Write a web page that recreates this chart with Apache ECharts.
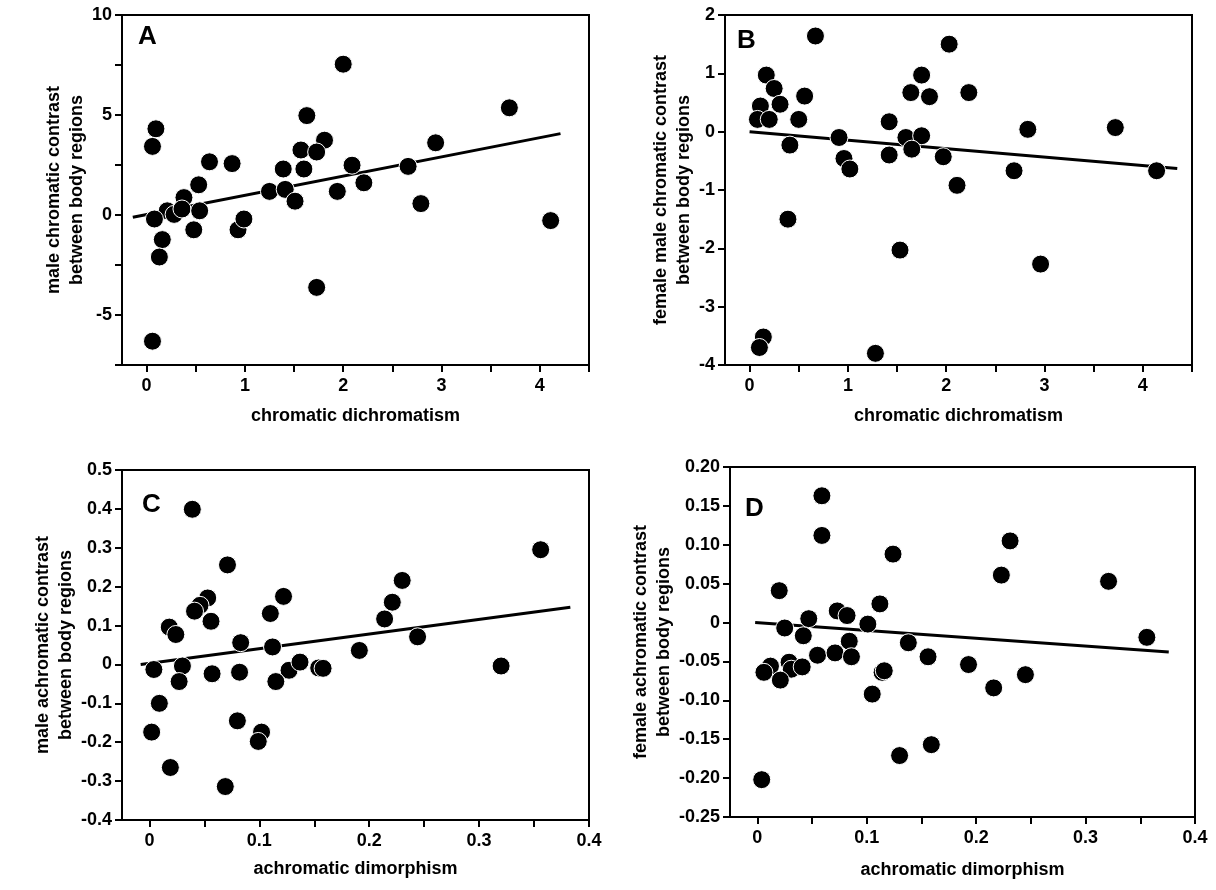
<!DOCTYPE html>
<html>
<head>
<meta charset="utf-8">
<script src="https://cdn.jsdelivr.net/npm/echarts@6/dist/echarts.min.js"></script>
</head>
<body style="margin:0;background:#fff">
<div id="main" style="width:1216px;height:890px;"></div>
<script>
// panel A: chromatic dichromatism vs male chromatic contrast
var aX = [2.0,3.69,0.095,0.06,1.63,1.81,1.57,1.73,2.94,0.64,0.87,1.39,1.60,2.09,2.66,0.53,2.21,1.25,1.41,1.94,1.51,2.79,0.38,0.21,0.28,0.36,0.54,0.08,0.48,0.93,0.99,0.16,0.13,1.73,0.06,4.11];
var aY = [7.54,5.36,4.31,3.43,4.97,3.74,3.25,3.15,3.61,2.66,2.57,2.30,2.30,2.49,2.43,1.51,1.61,1.18,1.28,1.18,0.69,0.57,0.87,0.21,0.03,0.30,0.21,-0.20,-0.74,-0.74,-0.20,-1.23,-2.10,-3.62,-6.31,-0.28];
var aFit = [[-0.14,-0.11],[4.21,4.07]];
// panel B
var bX = [0.67,2.03,0.17,1.75,0.25,0.56,1.64,1.83,2.23,0.11,0.31,0.08,0.20,0.50,1.42,2.83,3.72,0.91,1.59,1.75,0.41,1.65,0.96,1.02,1.42,1.97,2.69,4.14,2.11,0.39,1.53,2.96,0.14,0.10,1.28];
var bY = [1.64,1.50,0.97,0.97,0.74,0.61,0.67,0.60,0.67,0.44,0.47,0.21,0.21,0.21,0.17,0.04,0.07,-0.10,-0.10,-0.07,-0.23,-0.30,-0.46,-0.64,-0.40,-0.43,-0.67,-0.67,-0.92,-1.50,-2.03,-2.27,-3.52,-3.70,-3.80];
var bFit = [[0,0],[4.35,-0.63]];
// panel C
var cX = [0.039,0.356,0.071,0.230,0.221,0.053,0.046,0.041,0.122,0.110,0.056,0.214,0.018,0.024,0.083,0.112,0.244,0.191,0.030,0.004,0.057,0.082,0.127,0.137,0.154,0.158,0.320,0.027,0.115,0.009,0.002,0.080,0.102,0.099,0.019,0.069];
var cY = [0.399,0.295,0.256,0.216,0.160,0.171,0.152,0.137,0.175,0.131,0.111,0.117,0.096,0.077,0.056,0.045,0.071,0.036,-0.004,-0.013,-0.024,-0.020,-0.015,0.006,-0.009,-0.010,-0.004,-0.044,-0.044,-0.100,-0.174,-0.145,-0.174,-0.198,-0.265,-0.314];
var cFit = [[-0.008,0.0],[0.383,0.147]];
// panel D
var dX = [0.059,0.059,0.231,0.124,0.223,0.321,0.020,0.112,0.073,0.082,0.047,0.101,0.025,0.042,0.356,0.084,0.138,0.055,0.071,0.086,0.156,0.193,0.012,0.029,0.031,0.041,0.006,0.114,0.116,0.245,0.021,0.216,0.105,0.159,0.130,0.004];
var dY = [0.163,0.112,0.105,0.088,0.061,0.053,0.041,0.024,0.015,0.009,0.005,-0.002,-0.007,-0.017,-0.019,-0.024,-0.026,-0.042,-0.039,-0.044,-0.044,-0.054,-0.056,-0.051,-0.060,-0.057,-0.064,-0.064,-0.062,-0.067,-0.074,-0.084,-0.092,-0.157,-0.171,-0.202];
var dFit = [[-0.002,0.0],[0.376,-0.038]];

var chromTicks = [0,0.5,1,1.5,2,2.5,3,3.5,4,4.5];
var chromLabels = [0,1,2,3,4];
var achTicks = [0,0.05,0.1,0.15,0.2,0.25,0.3,0.35,0.4];
var achLabels = [0,0.1,0.2,0.3,0.4];

var font = 'Liberation Sans, Arial, sans-serif';
var grids = [
  {left:122, top:15, width:467, height:350},
  {left:725, top:15, width:467, height:350},
  {left:122, top:470, width:467, height:350},
  {left:730, top:467, width:465, height:350}
];
grids.forEach(function(g){ g.show = true; g.borderColor = '#000'; g.borderWidth = 2; });

function zip(xs, ys) { return xs.map(function(x, i){ return [x, ys[i]]; }); }

function xAxis(i, min, max, ticks, labels, name, gap) {
  return {
    type:'value', gridIndex:i, min:min, max:max, name:name,
    nameLocation:'middle', nameGap:gap,
    nameTextStyle:{fontFamily:font, fontWeight:'bold', fontSize:18, color:'#000'},
    splitLine:{show:false},
    axisLine:{onZero:false, lineStyle:{color:'#000', width:2}},
    axisTick:{customValues:ticks, length:7, lineStyle:{width:2, color:'#000'}},
    axisLabel:{customValues:labels, fontFamily:font, fontWeight:'bold', fontSize:18, color:'#000', margin:12,
      formatter:function(v){ return String(v); }}
  };
}
function yAxis(i, min, max, interval, labels, fmt, name, gap) {
  return {
    type:'value', gridIndex:i, min:min, max:max, interval:interval, name:name,
    nameLocation:'middle', nameGap:gap, nameRotate:90,
    nameTextStyle:{fontFamily:font, fontWeight:'bold', fontSize:18, color:'#000', lineHeight:23},
    splitLine:{show:false},
    axisLine:{onZero:false, lineStyle:{color:'#000', width:2}},
    axisTick:{length:7, lineStyle:{width:2, color:'#000'}},
    axisLabel:{customValues:labels, fontFamily:font, fontWeight:'bold', fontSize:18, color:'#000', margin:10, formatter:fmt}
  };
}
var fmtInt = function(v){ return String(Math.round(v)); };
var fmt1 = function(v){ return Math.abs(v) < 1e-9 ? '0' : v.toFixed(1); };
var fmt2 = function(v){ return Math.abs(v) < 1e-9 ? '0' : v.toFixed(2); };

function scatter(i, xs, ys) {
  return {type:'scatter', xAxisIndex:i, yAxisIndex:i, data:zip(xs, ys), symbolSize:18,
    itemStyle:{color:'#000', borderColor:'#fff', borderWidth:1, opacity:1}, z:3};
}
function fit(i, pts) {
  return {type:'line', xAxisIndex:i, yAxisIndex:i, data:pts, symbol:'none',
    lineStyle:{color:'#000', width:3}, z:2};
}
function letter(t, x, y) {
  return {type:'text', left:x, top:y, z:10,
    style:{text:t, fontFamily:font, fontWeight:'bold', fontSize:26, fill:'#000'}};
}

var chart = echarts.init(document.getElementById('main'));
chart.setOption({
  animation:false,
  grid:grids,
  xAxis:[
    xAxis(0, -0.25, 4.5, chromTicks, chromLabels, 'chromatic dichromatism', 42),
    xAxis(1, -0.25, 4.5, chromTicks, chromLabels, 'chromatic dichromatism', 42),
    xAxis(2, -0.025, 0.4, achTicks, achLabels, 'achromatic dimorphism', 40),
    xAxis(3, -0.025, 0.4, achTicks, achLabels, 'achromatic dimorphism', 44)
  ],
  yAxis:[
    yAxis(0, -7.5, 10, 2.5, [-5,0,5,10], fmtInt, 'male chromatic contrast\nbetween body regions', 21),
    yAxis(1, -4, 2, 1, [-4,-3,-2,-1,0,1,2], fmtInt, 'female male chromatic contrast\nbetween body regions', 21),
    yAxis(2, -0.4, 0.5, 0.1, [-0.4,-0.3,-0.2,-0.1,0,0.1,0.2,0.3,0.4,0.5], fmt1, 'male achromatic contrast\nbetween body regions', 35),
    yAxis(3, -0.25, 0.2, 0.05, [-0.25,-0.2,-0.15,-0.1,-0.05,0,0.05,0.1,0.15,0.2], fmt2, 'female achromatic contrast\nbetween body regions', 46)
  ],
  series:[
    fit(0, aFit), scatter(0, aX, aY),
    fit(1, bFit), scatter(1, bX, bY),
    fit(2, cFit), scatter(2, cX, cY),
    fit(3, dFit), scatter(3, dX, dY)
  ],
  graphic:[letter('A', 138, 24), letter('B', 737, 28), letter('C', 142, 492), letter('D', 745, 496)]
});
</script>
</body>
</html>
